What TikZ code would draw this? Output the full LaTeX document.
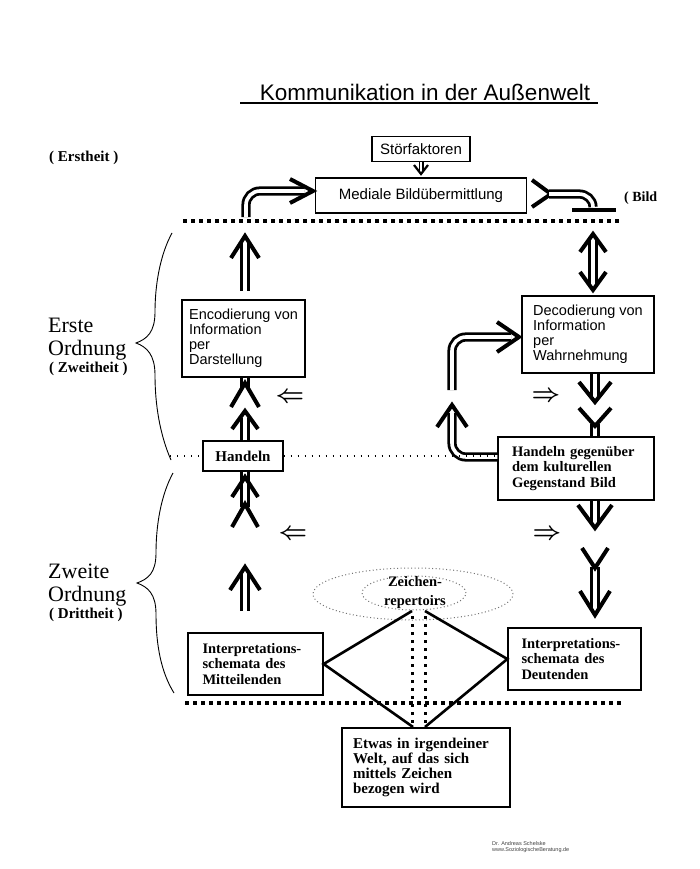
\documentclass[tikz,border=0pt]{standalone}
\usepackage{fontspec}
\setmainfont{Liberation Serif}
\setsansfont{Liberation Sans}

\begin{document}
\begin{tikzpicture}[x=1pt,y=1pt]
    \tikzstyle{every node}+=[inner sep=0pt]
    \tikzstyle{sbox}=[draw, line width=1.3pt, align=left, font=\sffamily\fontsize{15}{15}\selectfont]
    \tikzstyle{rbox}=[draw, line width=1.3pt, align=left, font=\bfseries\fontsize{14.5}{15.5}\selectfont]
    \tikzstyle{dbl}=[double, line width=2.8pt, double distance=3.6pt]
    \tikzstyle{chev}=[line width=4pt]
    \tikzstyle{bigdots}=[line width=4pt, dash pattern=on 4pt off 4pt]
    \tikzstyle{middots}=[line width=3pt, dash pattern=on 3pt off 5pt]
    \tikzstyle{smalldots}=[line width=1.2pt, dash pattern=on 1.2pt off 5.8pt]
    \tikzstyle{greydots}=[black!55, line width=1pt, dash pattern=on 1pt off 2.5pt]
    \tikzstyle{diam}=[line width=2.6pt]
    \tikzstyle{side}=[anchor=base west, font=\fontsize{22}{22}\selectfont]
    \tikzstyle{sidesmall}=[anchor=base west, font=\bfseries\fontsize{15}{15}\selectfont]
    \tikzstyle{small arrow}=[font=\fontsize{27}{27}\selectfont\boldmath]
    \useasboundingbox (0,0) rectangle (700,-869);
    \coordinate (lc) at (245,0);
    \coordinate (rc) at (595,0);
    % title
    \node (title) [font=\sffamily\fontsize{22.5}{23}\selectfont] at (425,-92) {Kommunikation in der Außenwelt};
    \draw [line width=1.2pt] (240,-103) -- (598,-103);
    % side labels
    \node (ersth) [sidesmall] at (49,-162) {( Erstheit )};
    \node (erste) [side] at (48,-332) {Erste};
    \node (ord1) [side] at (48,-355) {Ordnung};
    \node (zweith) [sidesmall] at (49,-372) {( Zweitheit )};
    \node (zweite) [side] at (48,-578) {Zweite};
    \node (ord2) [side] at (48,-601) {Ordnung};
    \node (dritth) [sidesmall] at (49,-618) {( Drittheit )};
    \node (bild) [sidesmall, font=\bfseries\fontsize{14}{14}\selectfont] at (624,-201) {( Bild};
    % braces
    \draw [line width=0.9pt] (172,-233) .. controls (160,-255) and (155,-285) .. (155,-312) .. controls (155,-332) and (147,-339) .. (136,-343) .. controls (147,-347) and (155,-355) .. (155,-375) .. controls (155,-405) and (160,-435) .. (171,-460);
    \draw [line width=0.9pt] (173,-473) .. controls (161,-495) and (156,-525) .. (156,-553) .. controls (156,-573) and (148,-579) .. (137,-583) .. controls (148,-587) and (156,-594) .. (156,-614) .. controls (156,-645) and (161,-672) .. (174,-693);
    % boxes
    \node (stoer) [sbox, minimum width=98, minimum height=25] at (421,-149) {Störfaktoren};
    \node (medial) [sbox, minimum width=211, minimum height=35] at (421,-195.5) {Mediale Bildübermittlung};
    \node (enc) [sbox, font=\sffamily\fontsize{14.5}{15}\selectfont, minimum width=123, minimum height=77] at (243.5,-338.5) {Encodierung von\\Information\\per\\Darstellung};
    \node (dec) [sbox, font=\sffamily\fontsize{14.5}{15}\selectfont, minimum width=132, minimum height=77] at (588,-334.5) {Decodierung von\\Information\\per\\Wahrnehmung};
    \node (han) [rbox, font=\bfseries\fontsize{15}{15}\selectfont, minimum width=80, minimum height=30] at (243,-456) {Handeln};
    \node (hgb) [rbox, minimum width=156, minimum height=63, text width=128] at (576,-468.5) {Handeln gegenüber\\dem kulturellen\\Gegenstand Bild};
    \node (intm) [rbox, minimum width=135, minimum height=62, text width=106] at (255.5,-664) {Interpretations-\\schemata des\\Mitteilenden};
    \node (intd) [rbox, minimum width=133, minimum height=62, text width=106] at (574.5,-659) {Interpretations-\\schemata des\\Deutenden};
    \node (etw) [rbox, font=\bfseries\fontsize{15}{15}\selectfont, minimum width=168, minimum height=79, text width=146] at (426,-767.5) {Etwas in irgendeiner\\Welt, auf das sich\\mittels Zeichen\\bezogen wird};
    % sign repertoire
    \draw [greydots] (413,-594) ellipse [x radius=100, y radius=26];
    \draw [greydots] (414,-593) ellipse [x radius=52, y radius=17];
    \node (zr) [align=center, font=\bfseries\fontsize{14.5}{19}\selectfont] at (415,-593) {Zeichen-\\repertoirs};
    \draw [diam] (412,-611) -- (intm.east) -- (413,-727);
    \draw [diam] (425,-611) -- (intd.west) -- (425,-727);
    \draw [middots] (412,-616) -- (412,-727);
    \draw [middots] (425,-616) -- (425,-727);
    % dotted borders
    \draw [bigdots] (183,-221) -- (622,-221);
    \draw [bigdots] (185,-703) -- (622,-703);
    % top: transmission
    \draw [dbl, line width=1.5pt, double distance=2pt] (stoer.south) -- (421,-171);
    \draw [chev, line width=2.2pt] (414,-165) -- (421,-174) -- (428,-165);
    \draw [dbl] (246,-217) -- (246,-205) to[out=90,in=180] (260,-191) -- (304,-191);
    \draw [chev] (290,-179) -- (313,-191) -- (290,-203);
    \draw [chev] (532,-180) -- (551,-194) -- (532,-207);
    \draw [dbl] (549,-194) -- (579,-194) to[out=0,in=90] (593,-207);
    \draw [chev] (572,-210) -- (616,-210);
    % left column
    \draw [dbl] (245,-291) -- (245,-242);
    \draw [chev] (231,-258) -- (245,-236) -- (259,-258);
    \draw [dbl] (lc |- enc.south) -- (245,-388);
    \draw [chev] (231,-407) -- (245,-383) -- (259,-407);
    \draw [dbl] (lc |- han.north) -- (245,-418);
    \draw [chev] (232,-429) -- (245,-411) -- (258,-429);
    \draw [dbl] (lc |- han.south) -- (245,-507);
    \draw [chev] (232,-497) -- (245,-477) -- (258,-497);
    \draw [chev] (232,-527) -- (245,-504) -- (258,-527);
    \draw [dbl] (245,-611) -- (245,-573);
    \draw [chev] (230,-590) -- (245,-567) -- (260,-590);
    \node (back1) [small arrow] at (290,-398) {$\Leftarrow$};
    \node (back2) [small arrow] at (293,-535) {$\Leftarrow$};
    % right column
    \draw [dbl] (593,-240) -- (593,-284);
    \draw [chev] (580,-252) -- (593,-234) -- (606,-252);
    \draw [chev] (580,-272) -- (593,-290) -- (606,-272);
    \draw [dbl] (rc |- dec.south) -- (595,-396);
    \draw [chev] (579,-382) -- (595,-402) -- (611,-382);
    \draw [dbl] (595,-424) -- (rc |- hgb.north);
    \draw [chev] (579,-408) -- (595,-426) -- (611,-408);
    \draw [dbl] (rc |- hgb.south) -- (595,-522);
    \draw [chev] (578,-505) -- (595,-528) -- (612,-505);
    \draw [dbl] (595,-567) -- (595,-609);
    \draw [chev] (582,-548) -- (595,-568) -- (608,-548);
    \draw [chev] (580,-591) -- (595,-615) -- (610,-591);
    \node (fwd1) [small arrow] at (546,-397) {$\Rightarrow$};
    \node (fwd2) [small arrow] at (547,-535) {$\Rightarrow$};
    % loop back to decoding
    \draw [dbl] ([yshift=11.5]hgb.west) -- (466,-457) to[out=180,in=-90] (452,-443) -- (452,-413);
    \draw [chev] (437,-427) -- (452,-405) -- (467,-427);
    \draw [dbl] (452,-390) -- (452,-351) to[out=90,in=180] (466,-337) -- (511,-337);
    \draw [chev] (497,-322) -- (519,-337) -- (497,-352);
    % Handeln level
    \draw [smalldots] (170,-456) -- (han.west);
    \draw [smalldots] (han.east) -- (hgb.west |- han.east);
    % credit
    \node (credit) [anchor=west, align=left, text=black!75, font=\sffamily\fontsize{5.5}{6.5}\selectfont] at (492,-847) {Dr. Andreas Schelske\\www.SoziologischeBeratung.de};
\end{tikzpicture}
\end{document}
